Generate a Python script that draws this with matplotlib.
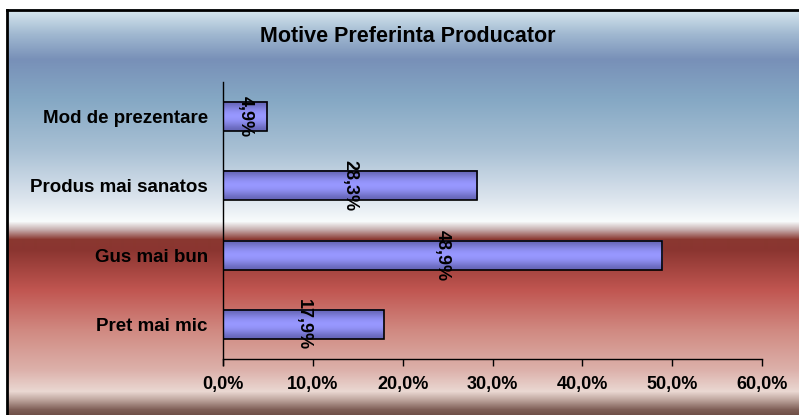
import numpy as np
import matplotlib
matplotlib.use("Agg")
import matplotlib.pyplot as plt
from matplotlib.colors import to_rgb

plt.rcParams['font.family'] = ['Liberation Sans', 'DejaVu Sans']
plt.rcParams['font.weight'] = 'bold'

# motives, bottom to top
categories = ['Pret mai mic', 'Gus mai bun', 'Produs mai sanatos', 'Mod de prezentare']
values = [17.9, 48.9, 28.3, 4.9]
xticks = [0, 10, 20, 30, 40, 50, 60]
title = 'Motive Preferinta Producator'

W, H = 799, 415
fig = plt.figure(figsize=(W / 100, H / 100), dpi=100)

# background panel: blue fading to white, then a band of red
bg = fig.add_axes([0, 0, 1, 1])
bg.set_xlim(0, W)
bg.set_ylim(H, 0)
bg.axis('off')

stops = [
    (10, '#d8e8f0'), (35, '#a0b8d0'), (60, '#7890b8'), (100, '#85a8c4'),
    (150, '#a8c0d4'), (200, '#dde5ee'), (222, '#f8fbfc'), (230, '#c8b0b0'),
    (240, '#8a3830'), (250, '#8a3530'), (290, '#c05550'), (330, '#d08880'),
    (370, '#dcb0aa'), (392, '#ead8d2'), (400, '#c0a8a0'), (410, '#806058'),
    (415, '#705048'),
]
ys = np.arange(10, H + 1)
sy = [s[0] for s in stops]
cols = np.array([to_rgb(s[1]) for s in stops])
grad = np.stack([np.interp(ys, sy, cols[:, i]) for i in range(3)], axis=1)
bg.imshow(grad[:, None, :], extent=[7, W, H, 10], aspect='auto', interpolation='bilinear')
bg.plot([7, 7], [10, H], color='black', lw=2)
bg.plot([7, W], [10, 10], color='black', lw=2)
bg.text(408, 37, title, fontsize=15.5, fontweight='bold', ha='center', va='center')

ax = fig.add_axes([223 / W, (H - 359) / H, 539 / W, 277 / H])
ax.patch.set_alpha(0)

pos = np.arange(len(categories))
bars = ax.barh(pos, values, height=0.42, facecolor='none', edgecolor='black', lw=1.2, zorder=3)

# shaded fill inside each bar
shade = np.array([0.35, 0.6, 0.85, 1.0, 1.0, 0.85, 0.6, 0.35])
dark, light = np.array(to_rgb('#4a4a90')), np.array(to_rgb('#9898ff'))
bar_img = dark + (light - dark) * shade[:, None]
for b in bars:
    x0, y0, w, h = b.get_x(), b.get_y(), b.get_width(), b.get_height()
    ax.imshow(bar_img[:, None, :], extent=[x0, x0 + w, y0, y0 + h], aspect='auto',
              interpolation='bicubic', zorder=2)

for p, v in zip(pos, values):
    ax.text(v / 2, p, f'{v:.1f}%'.replace('.', ','), rotation=270, ha='center', va='center',
            fontsize=13, fontweight='bold', zorder=4)

ax.set_xlim(0, 60)
ax.set_ylim(-0.5, len(categories) - 0.5)
ax.set_xticks(xticks)
ax.set_xticklabels([f'{t:.1f}%'.replace('.', ',') for t in xticks], fontsize=13, fontweight='bold')
ax.set_yticks(pos)
ax.set_yticklabels(categories, fontsize=13.5, fontweight='bold')
ax.tick_params(axis='y', length=0, pad=11)
ax.tick_params(axis='x', direction='out', length=5, width=1, pad=7)
for s in ['top', 'right']:
    ax.spines[s].set_visible(False)
for s in ['left', 'bottom']:
    ax.spines[s].set_linewidth(1)
ax.spines['left'].set_bounds(-0.5 - 0.08, len(categories) - 0.5)

fig.savefig('out.png', dpi=100)
